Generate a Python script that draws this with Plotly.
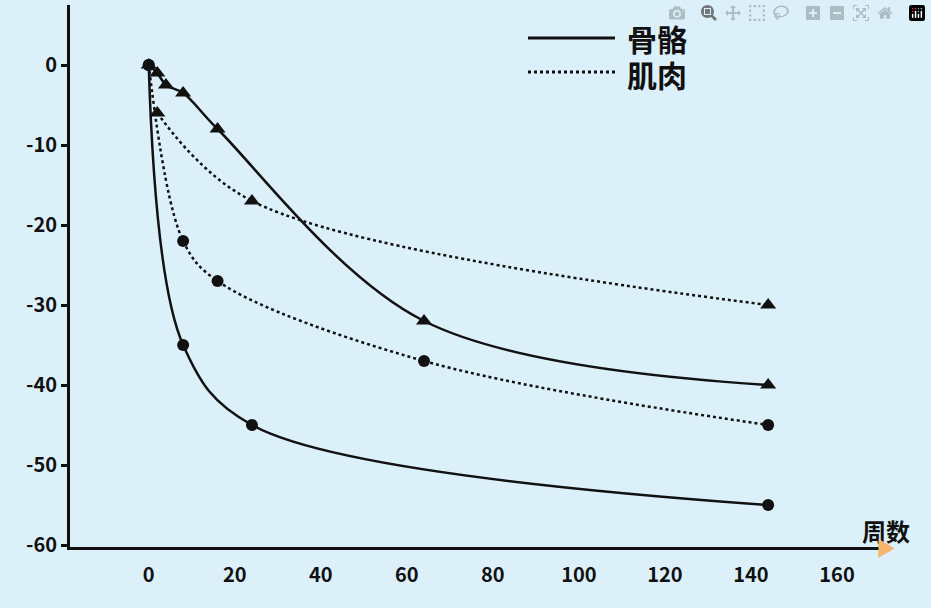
import plotly.graph_objects as go

bone_c_x = [0, 8, 24, 144]
bone_c_y = [0, -35, -45, -55]
bone_t_x = [0, 2, 4, 8, 16, 64, 144]
bone_t_y = [0, -1, -2.5, -3.5, -8, -32, -40]
mus_c_x = [0, 8, 16, 64, 144]
mus_c_y = [0, -22, -27, -37, -45]
mus_t_x = [2, 24, 144]
mus_t_y = [-6, -17, -30]
xticks = [0, 20, 40, 60, 80, 100, 120, 140, 160]
yticks = [0, -10, -20, -30, -40, -50, -60]
yticktext = ["0", "-10", "-20", "-30", "-40", "-50", "-60"]

fig = go.Figure()
def add(x, y, dash, sym, size):
    fig.add_trace(go.Scatter(x=x, y=y, mode="lines", line=dict(color="#111", width=2.5, dash=dash, shape="spline", smoothing=1.0), showlegend=False))
    fig.add_trace(go.Scatter(x=x, y=y, mode="markers", marker=dict(color="#111", size=size, symbol=sym), showlegend=False))
add(bone_c_x, bone_c_y, "solid", "circle", 12)
add(bone_t_x, bone_t_y, "solid", "triangle-up", 14)
add(mus_c_x, mus_c_y, "dot", "circle", 12)
add(mus_t_x, mus_t_y, "dot", "triangle-up", 14)

font = dict(family="Noto Sans CJK SC, Noto Sans", size=20, color="#111")
fig.update_layout(
    width=931, height=608, paper_bgcolor="#dcf0fa", plot_bgcolor="#dcf0fa",
    margin=dict(l=70, r=51, t=5, b=61),
    xaxis=dict(range=[-18.3, 170], tickvals=xticks, ticktext=[f"<b>{v}</b>" for v in xticks], showgrid=False, zeroline=False,
               showline=True, linecolor="#111", linewidth=3, tickfont=font, ticks="", ticklabelstandoff=8),
    yaxis=dict(range=[-60.25, 7.5], tickvals=yticks, ticktext=[f"<b>{t}</b>" for t in yticktext], showgrid=False, zeroline=False,
               showline=True, linecolor="#111", linewidth=3, tickfont=font, ticks="outside",
               ticklen=6, tickwidth=3, tickcolor="#111"),
    font=font,
)
lx0, lx1 = (528-70)/810, (615-70)/810
fig.add_shape(type="line", xref="paper", yref="paper", x0=lx0, x1=lx1, y0=(547-38)/542, y1=(547-38)/542, line=dict(color="#111", width=3))
fig.add_shape(type="line", xref="paper", yref="paper", x0=lx0, x1=lx1, y0=(547-72)/542, y1=(547-72)/542, line=dict(color="#111", width=3, dash="dot"))
fig.add_annotation(xref="paper", yref="paper", x=(625-70)/810, y=(547-38)/542, text="<b>骨骼</b>", showarrow=False, xanchor="left", yanchor="middle", font=dict(family="Noto Sans CJK SC", size=30, color="#111"))
fig.add_annotation(xref="paper", yref="paper", x=(625-70)/810, y=(547-74)/542, text="<b>肌肉</b>", showarrow=False, xanchor="left", yanchor="middle", font=dict(family="Noto Sans CJK SC", size=30, color="#111"))
fig.add_annotation(xref="paper", yref="paper", x=(912-70)/810, y=(547-530)/542, text="<b>周数</b>", showarrow=False, xanchor="right", yanchor="middle", font=dict(family="Noto Sans CJK SC", size=24, color="#111"))
fig.add_annotation(xref="paper", yref="paper", x=1.0, y=0, text="▶", showarrow=False, xanchor="left", yanchor="middle", xshift=-6, font=dict(size=20, color="#f5b56a"))
fig.write_html("out.html", post_script="document.body.style.margin='0';document.body.style.background='#dcf0fa';")
